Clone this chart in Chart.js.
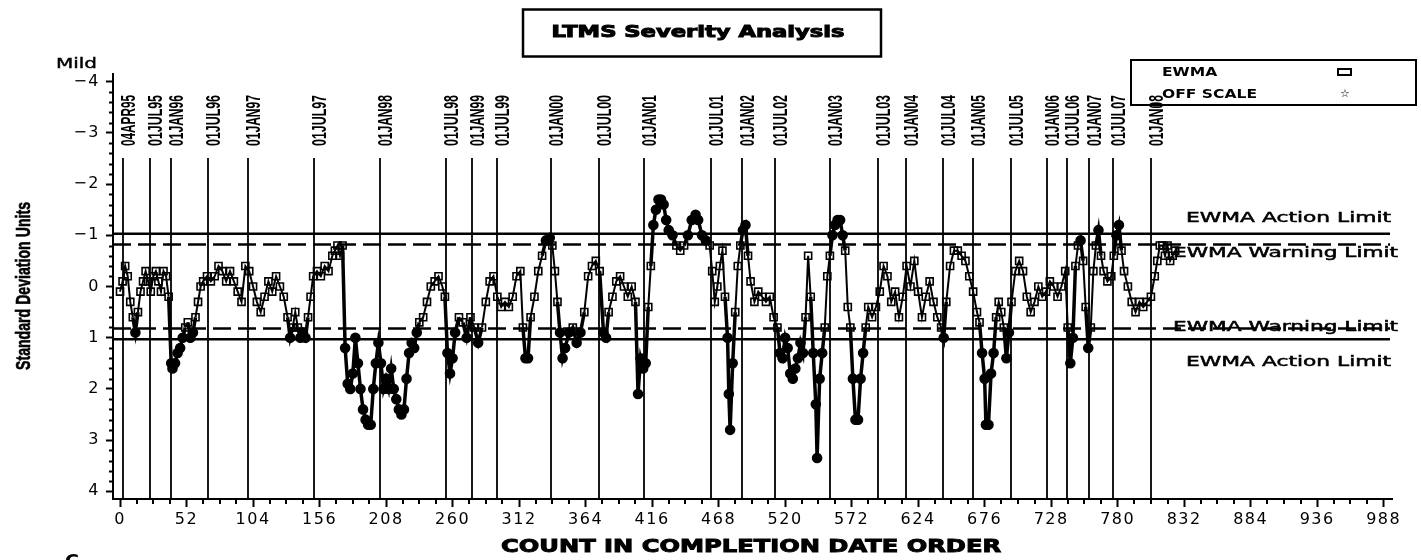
<!DOCTYPE html>
<html><head><meta charset="utf-8">
<script src="https://cdn.jsdelivr.net/npm/chart.js@4.4.1/dist/chart.umd.min.js"></script>
<style>html,body{margin:0;padding:0;background:#fff;}#wrap{width:1421px;height:560px;position:relative;}canvas{display:block;}</style>
</head><body><div id="wrap"><canvas id="c" width="1421" height="560"></canvas></div>
<script>
const chartTitle = 'LTMS Severity Analysis';
const xAxisTitle = 'COUNT IN COMPLETION DATE ORDER';
const yAxisTitle = 'Standard Deviation Units';
const yTopNote = 'Mild';
const legendLabels = ['EWMA', 'OFF SCALE'];
const xTickValues = [0,52,104,156,208,260,312,364,416,468,520,572,624,676,728,780,832,884,936,988];
const yTickValues = [-4,-3,-2,-1,0,1,2,3,4];
const actionLimits = [-1.03, 1.03];
const warningLimits = [-0.82, 0.82];
const limitLabels = ['EWMA Action Limit', 'EWMA Warning Limit', 'EWMA Warning Limit', 'EWMA Action Limit'];
const dateLabels = ['04APR95','01JUL95','01JAN96','01JUL96','01JAN97','01JUL97','01JAN98','01JUL98','01JAN99','01JUL99','01JAN00','01JUL00','01JAN01','01JUL01','01JAN02','01JUL02','01JAN03','01JUL03','01JAN04','01JUL04','01JAN05','01JUL05','01JAN06','01JUL06','01JAN07','01JUL07','01JAN08'];
const dateCounts = [2,23.5,40,69,100,152,203,254.5,275,295,337,374.5,410,462,486,512,555,593,614.5,643.5,667,697,725,740.5,757.5,776,806];
const testCount = [0,2,4,6,8,10,12,14,16,18,20,22,24,26,28,30,32,34,36,38,40,41,43,45,47,49,51,53,55,57,59,61,63,65,68,71,74,77,80,83,86,89,92,95,98,101,104,107,110,113,116,119,122,125,128,131,133,135,137,139,141,143,145,147,149,151,154,157,160,163,166,168,170,172,174,176,178,180,182,184,186,188,190,192,194,196,198,200,202,204,206,208,210,212,214,216,218,220,222,224,226,228,230,232,234,237,240,243,246,249,252,254,256,258,260,262,265,268,271,274,277,280,283,286,289,292,295,298,301,304,307,310,313,315,317,319,321,324,327,330,333,336,338,340,342,344,346,348,351,354,357,360,363,366,369,372,375,378,380,382,385,388,391,394,397,400,403,405,407,409,411,413,415,417,419,421,423,425,427,429,432,435,438,441,444,447,450,452,455,458,461,463,465,467,469,471,473,475,476,477,479,481,483,485,487,489,491,493,496,499,502,505,508,511,514,516,518,520,522,524,526,528,530,532,534,536,538,540,542,544,545,547,549,551,553,555,557,559,561,563,565,567,569,571,573,575,577,579,581,583,585,588,591,594,597,600,603,606,609,612,615,618,621,624,627,630,633,636,639,642,644,646,649,652,655,658,661,664,667,670,672,674,676,677,679,681,683,685,687,689,691,693,695,697,700,703,706,709,712,715,718,721,724,727,730,733,736,739,741,743,745,747,749,751,753,755,757,759,761,763,765,767,769,772,775,777,779,781,783,785,788,791,794,797,800,803,806,809,811,813,815,817,819,821,823,825];
const ewma = [0.1,-0.1,-0.4,-0.2,0.3,0.6,0.9,0.5,0.1,-0.1,-0.3,-0.1,0.1,-0.2,-0.3,-0.1,0.1,-0.3,-0.2,0.2,1.5,1.6,1.5,1.3,1.2,1.0,0.8,0.7,1.0,0.9,0.6,0.3,0.0,-0.1,-0.2,-0.1,-0.2,-0.4,-0.3,-0.1,-0.3,-0.1,0.1,0.3,-0.4,-0.3,0.0,0.3,0.5,0.2,-0.1,0.1,-0.2,0.0,0.2,0.6,1.0,0.8,0.5,0.8,1.0,0.9,1.0,0.6,0.2,-0.2,-0.3,-0.2,-0.4,-0.3,-0.6,-0.7,-0.8,-0.6,-0.8,1.2,1.9,2.0,1.7,1.0,1.5,2.0,2.4,2.6,2.7,2.7,2.0,1.5,1.1,1.5,2.0,1.8,2.0,1.6,2.0,2.2,2.4,2.5,2.4,1.8,1.3,1.1,1.2,0.9,0.7,0.6,0.3,0.0,-0.1,-0.2,0.0,0.2,1.3,1.7,1.4,0.9,0.6,0.7,1.0,0.6,0.8,1.1,0.8,0.3,-0.1,-0.2,0.2,0.4,0.3,0.4,0.2,-0.2,-0.3,0.8,1.4,1.4,0.6,0.2,-0.3,-0.6,-0.9,-0.95,-0.8,-0.3,0.3,0.9,1.4,1.2,0.9,0.8,1.1,0.9,0.5,-0.2,-0.4,-0.5,-0.3,0.9,1.0,0.5,0.2,-0.1,-0.2,0.0,0.2,0.0,0.3,2.1,1.4,1.6,1.5,0.4,-0.4,-1.2,-1.5,-1.7,-1.7,-1.6,-1.3,-1.1,-1.0,-0.8,-0.7,-0.8,-1.0,-1.3,-1.4,-1.3,-1.0,-0.9,-0.8,-0.3,0.3,0.0,-0.4,-0.7,0.2,1.0,2.1,2.8,1.5,0.5,-0.4,-0.8,-1.1,-1.2,-0.6,-0.1,0.3,0.1,0.2,0.3,0.2,0.6,0.8,1.3,1.4,1.0,1.2,1.7,1.8,1.6,1.4,1.1,1.3,0.6,-0.6,0.2,1.3,2.3,3.35,1.8,1.3,0.8,-0.2,-0.6,-1.0,-1.2,-1.3,-1.3,-1.0,-0.7,0.4,0.8,1.8,2.6,2.6,1.8,1.3,0.8,0.4,0.6,0.4,0.1,-0.4,-0.2,0.3,0.1,0.6,0.2,-0.4,0.0,-0.5,0.1,0.6,0.2,-0.1,0.3,0.6,0.8,1.0,0.3,-0.4,-0.7,-0.7,-0.6,-0.5,-0.2,0.1,0.5,0.7,1.3,1.8,2.7,2.7,1.7,1.3,0.6,0.3,0.5,0.8,1.4,0.9,0.3,-0.3,-0.5,-0.3,0.2,0.5,0.3,0.0,0.2,0.1,-0.1,0.0,0.2,0.0,-0.3,0.8,1.5,1.0,-0.4,-0.8,-0.9,-0.5,0.4,1.2,0.8,-0.3,-0.8,-1.1,-0.6,-0.3,-0.1,-0.2,-0.6,-1.0,-1.2,-0.7,-0.3,0.0,0.3,0.5,0.3,0.4,0.3,0.2,-0.2,-0.5,-0.8,-0.8,-0.6,-0.8,-0.5,-0.6,-0.7];

const X_MIN = -5.5, X_MAX = 994.5, Y_MIN = -4.15, Y_MAX = 4.15;
const X_MINOR = 13, Y_MINOR = 0.2;
const FONT_WIDE = '"DejaVu Sans"';
const FONT_NARROW = '"Liberation Sans"';

function fitText(ctx, text, x, y, width, font, align, opts) {
  opts = opts || {};
  ctx.save();
  ctx.letterSpacing = '0px';
  ctx.font = font;
  const w = ctx.measureText(text).width;
  ctx.translate(x, y);
  if (opts.rotate) ctx.rotate(opts.rotate);
  ctx.scale(width / w, 1);
  ctx.textAlign = align;
  ctx.textBaseline = opts.baseline || 'middle';
  ctx.fillStyle = '#000';
  ctx.fillText(text, 0, 0);
  if (opts.stroke) { ctx.lineWidth = opts.stroke; ctx.strokeStyle = '#000'; ctx.strokeText(text, 0, 0); }
  ctx.restore();
}
function measure(ctx, text, font) {
  ctx.save(); ctx.letterSpacing = '0px'; ctx.font = font;
  const w = ctx.measureText(text).width; ctx.restore(); return w;
}

const decor = {
  id: 'decor',
  beforeDraw(chart) { chart.ctx.letterSpacing = '1.5px'; },
  beforeDatasetsDraw(chart) {
    const ctx = chart.ctx, ca = chart.chartArea, xs = chart.scales.x, ys = chart.scales.y;
    ctx.save();
    ctx.letterSpacing = '0px';
    ctx.strokeStyle = '#000';
    ctx.lineWidth = 2;
    ctx.beginPath();
    for (let v = -4; v <= 4.001; v += Y_MINOR) {
      if (Math.abs(v - Math.round(v)) < 1e-6) continue;
      const py = Math.round(ys.getPixelForValue(v)) + 0.5;
      ctx.moveTo(ca.left - 4, py); ctx.lineTo(ca.left, py);
    }
    for (let v = 0; v <= 988; v += X_MINOR) {
      if (v % 52 === 0) continue;
      const px = Math.round(xs.getPixelForValue(v));
      ctx.moveTo(px, ca.bottom); ctx.lineTo(px, ca.bottom + 5);
    }
    ctx.stroke();
    ctx.lineWidth = 1.8;
    ctx.beginPath();
    dateCounts.forEach(c => {
      const px = Math.round(xs.getPixelForValue(c));
      ctx.moveTo(px, 158); ctx.lineTo(px, ca.bottom);
    });
    ctx.stroke();
    ctx.lineWidth = 2.5;
    actionLimits.forEach(v => {
      const py = ys.getPixelForValue(v);
      ctx.beginPath(); ctx.setLineDash([]); ctx.moveTo(ca.left, py); ctx.lineTo(ca.right - 2, py); ctx.stroke();
    });
    warningLimits.forEach(v => {
      const py = ys.getPixelForValue(v);
      ctx.beginPath(); ctx.setLineDash([18, 7]); ctx.moveTo(ca.left, py); ctx.lineTo(ca.right - 2, py); ctx.stroke();
    });
    ctx.setLineDash([]);
    ctx.restore();
  },
  afterDraw(chart) {
    const ctx = chart.ctx, xs = chart.scales.x;
    ctx.save();
    ctx.letterSpacing = '0px';
    ctx.lineWidth = 2.5; ctx.strokeStyle = '#000';
    ctx.strokeRect(523, 9.5, 358, 47);
    fitText(ctx, chartTitle, 698, 33, 293, 'bold 16px ' + FONT_WIDE, 'center', {stroke: 1});
    fitText(ctx, yTopNote, 56, 64, 41, '14px ' + FONT_WIDE, 'left', {stroke: 0.4});
    fitText(ctx, yAxisTitle, 30, 286, 168, 'bold 20px ' + FONT_NARROW, 'center', {rotate: -Math.PI / 2, baseline: 'alphabetic', stroke: 0.6});
    fitText(ctx, xAxisTitle, 751, 548, 500, 'bold 17px ' + FONT_WIDE, 'center', {stroke: 0.9});
    dateLabels.forEach((t, i) => {
      const px = Math.round(xs.getPixelForValue(dateCounts[i]));
      fitText(ctx, t, px + 12, 146, 51, 'bold 20px ' + FONT_NARROW, 'left', {rotate: -Math.PI / 2, baseline: 'alphabetic'});
    });
    const lf = '14px ' + FONT_WIDE;
    fitText(ctx, limitLabels[0], 1391, 218, 205, lf, 'right', {stroke: 0.5});
    fitText(ctx, limitLabels[1], 1173, 253, 225, lf, 'left', {stroke: 0.5});
    fitText(ctx, limitLabels[2], 1173, 327, 225, lf, 'left', {stroke: 0.5});
    fitText(ctx, limitLabels[3], 1186, 362, 205, lf, 'left', {stroke: 0.5});
    ctx.lineWidth = 2; ctx.strokeStyle = '#000';
    ctx.strokeRect(1131, 60, 285, 45);
    const legFont = 'bold 12px ' + FONT_WIDE;
    const k = 95 / measure(ctx, legendLabels[1], legFont);
    fitText(ctx, legendLabels[0], 1162, 73, k * measure(ctx, legendLabels[0], legFont), legFont, 'left');
    fitText(ctx, legendLabels[1], 1162, 95, 95, legFont, 'left');
    ctx.lineWidth = 2;
    ctx.strokeRect(1338, 69, 13, 6);
    ctx.font = '11px ' + FONT_WIDE; ctx.textAlign = 'center'; ctx.textBaseline = 'middle'; ctx.fillStyle = '#000';
    ctx.fillText('\u2606', 1345, 94);
    fitText(ctx, 'C', 65, 553, 14, 'bold 18px ' + FONT_WIDE, 'left', {baseline: 'top'});
    ctx.restore();
  }
};

const far = v => Math.abs(v) > 0.84;

new Chart(document.getElementById('c'), {
  type: 'line',
  data: {
    datasets: [{
      label: 'EWMA',
      data: testCount.map((c, i) => ({x: c, y: ewma[i]})),
      borderColor: '#000',
      borderWidth: 2,
      tension: 0,
      segment: { borderWidth: s => (far(s.p0.parsed.y) || far(s.p1.parsed.y)) ? 3.5 : 2 },
      pointStyle: c => far(c.raw.y) ? 'circle' : 'rect',
      pointRadius: c => far(c.raw.y) ? 4.5 : 5,
      pointBorderWidth: 1.6,
      pointBorderColor: '#000',
      pointBackgroundColor: c => far(c.raw.y) ? '#000' : 'rgba(0,0,0,0)'
    }]
  },
  options: {
    responsive: false,
    devicePixelRatio: 1,
    animation: false,
    events: [],
    layout: { padding: { top: 74, right: 29, bottom: 0, left: 0 } },
    plugins: { legend: { display: false }, tooltip: { enabled: false }, title: { display: false } },
    scales: {
      x: {
        type: 'linear', min: X_MIN, max: X_MAX,
        afterFit: s => { s.height = 61; },
        afterBuildTicks: s => { s.ticks = xTickValues.map(v => ({value: v})); },
        grid: { display: true, drawOnChartArea: false, drawTicks: true, tickLength: 8, tickWidth: 2, tickColor: '#000' },
        border: { display: true, color: '#000', width: 2 },
        ticks: { color: '#000', font: { family: 'DejaVu Sans', size: 16 }, padding: 3, maxRotation: 0, autoSkip: false, callback: v => String(v) }
      },
      y: {
        type: 'linear', min: Y_MIN, max: Y_MAX, reverse: true,
        afterFit: s => { s.width = 113; },
        afterBuildTicks: s => { s.ticks = yTickValues.map(v => ({value: v})); },
        grid: { display: true, drawOnChartArea: false, drawTicks: true, tickLength: 7, tickWidth: 2, tickColor: '#000' },
        border: { display: true, color: '#000', width: 2 },
        ticks: { color: '#000', font: { family: 'DejaVu Sans', size: 16 }, padding: 6, callback: v => v < 0 ? '\u2212' + Math.abs(v) : String(v) }
      }
    }
  },
  plugins: [decor]
});
</script>
</body></html>
